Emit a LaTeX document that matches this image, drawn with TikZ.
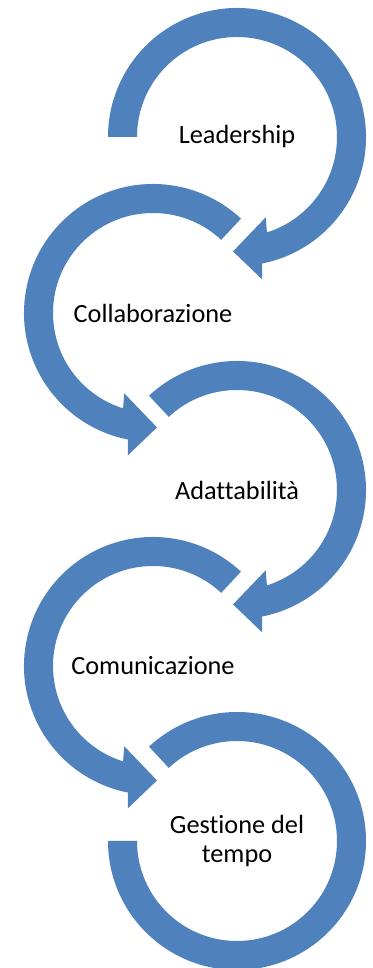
\documentclass[tikz,border=0pt]{standalone}
\usepackage{fontspec}
\setmainfont{Carlito}[Ligatures=NoCommon]
\definecolor{sablue}{RGB}{79,129,189}
\begin{document}
\begin{tikzpicture}[x=1pt,y=1pt,
  ring/.style={fill=sablue,draw=none},
  lbl/.style={font=\fontsize{26.3}{29}\selectfont,align=center,inner sep=0pt,text=black}]
\useasboundingbox (0,0) rectangle (372,968);
% circle 1 (clockwise, starts at left)
\begin{scope}[shift={(237,831)}]
\fill[ring] (180:100) arc[start angle=180,end angle=-72.6,radius=100pt] -- (-70.3:85.3) -- (-92:114.5) -- (-80:144.5) -- (-78.8:129) arc[start angle=-78.8,end angle=180,radius=129pt] -- cycle;
\node[lbl] (t1) at (0,0) {Leadership};
\end{scope}
% circle 2 (counterclockwise)
\begin{scope}[shift={(153,655)}]
\fill[ring] (47:100) arc[start angle=47,end angle=252.6,radius=100pt] -- (250.3:85.3) -- (272:114.5) -- (260:144.5) -- (258.8:129) arc[start angle=258.8,end angle=47,radius=129pt] -- cycle;
\node[lbl] (t2) at (0,0) {Collaborazione};
\end{scope}
% circle 3
\begin{scope}[shift={(237,478)}]
\fill[ring] (133:100) arc[start angle=133,end angle=-72.6,radius=100pt] -- (-70.3:85.3) -- (-92:114.5) -- (-80:144.5) -- (-78.8:129) arc[start angle=-78.8,end angle=133,radius=129pt] -- cycle;
\node[lbl] (t3) at (0,0) {Adattabilità};
\end{scope}
% circle 4
\begin{scope}[shift={(153,302)}]
\fill[ring] (47:100) arc[start angle=47,end angle=252.6,radius=100pt] -- (250.3:85.3) -- (272:114.5) -- (260:144.5) -- (258.8:129) arc[start angle=258.8,end angle=47,radius=129pt] -- cycle;
\node[lbl] (t4) at (0,0) {Comunicazione};
\end{scope}
% circle 5 (no arrowhead)
\begin{scope}[shift={(237,127)}]
\fill[ring] (133:100) arc[start angle=133,end angle=-180,radius=100pt] -- (-180:129) arc[start angle=-180,end angle=133,radius=129pt] -- cycle;
\node[lbl] (t5) at (0,0) {Gestione del\\tempo};
\end{scope}
\end{tikzpicture}
\end{document}
